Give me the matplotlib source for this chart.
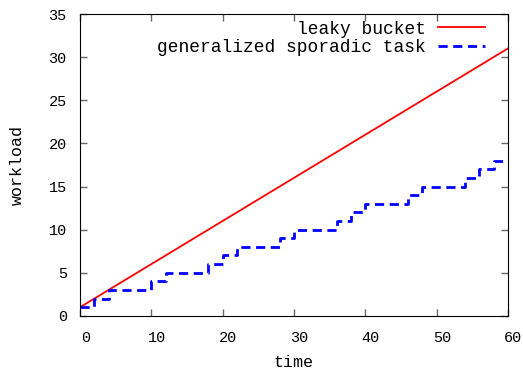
import matplotlib
matplotlib.use("Agg")
from matplotlib import pyplot as plt
from matplotlib import transforms
import numpy as np

# leaky bucket bound: burst 1, rate 0.5
bucket_burst = 1
bucket_rate = 0.5
bucket_t = [0, 60]

# workload of the generalized sporadic task (value holds until next time)
task_t = [0, 2, 4, 10, 12, 18, 20, 22, 28, 30, 36, 38, 40, 46, 48, 54, 56, 58, 60]
task_w = [1, 2, 3, 4, 5, 6, 7, 8, 9, 10, 11, 12, 13, 14, 15, 16, 17, 18, 18]

plt.rcParams['font.family'] = ['Liberation Mono', 'DejaVu Sans Mono']
tick_fs = 11
label_fs = 12
legend_fs = 12.9

fig = plt.figure(figsize=(5.23, 3.69), dpi=100)
ax = fig.add_axes([0.153, 0.144, 0.818, 0.818])

bucket_w = [bucket_burst + bucket_rate * t for t in bucket_t]
ax.plot(bucket_t, bucket_w, color='#ff0000', linewidth=1.3, label='leaky bucket')
ax.plot(task_t, task_w, color='#0000ff', linewidth=2.0, linestyle=(0, (3.3, 2)),
        drawstyle='steps-post', label='generalized sporadic task')

ax.set_xlim(0, 60)
ax.set_ylim(0, 35)
ax.set_xticks(np.arange(0, 61, 10))
ax.set_yticks(np.arange(0, 36, 5))
ax.tick_params(direction='in', top=True, right=True, length=5, width=1,
               labelsize=tick_fs, color='#666666')
ax.tick_params(axis='x', pad=11)
ax.tick_params(axis='y', pad=9.5)
# x tick labels sit a little right of their ticks
shift = transforms.ScaledTranslation(4 / 72, 0, fig.dpi_scale_trans)
for lbl in ax.get_xticklabels():
    lbl.set_transform(lbl.get_transform() + shift)

ax.set_xlabel('time', fontsize=label_fs, labelpad=7)
ax.set_ylabel('workload', fontsize=label_fs, labelpad=17)

leg = ax.legend(loc='upper right', bbox_to_anchor=(0.946, 0.978), frameon=False,
                markerfirst=False, fontsize=legend_fs, handlelength=2.6,
                labelspacing=0.1, borderaxespad=0, handletextpad=0.7, borderpad=0)

plt.savefig('out.png', dpi=100)
plt.close()
